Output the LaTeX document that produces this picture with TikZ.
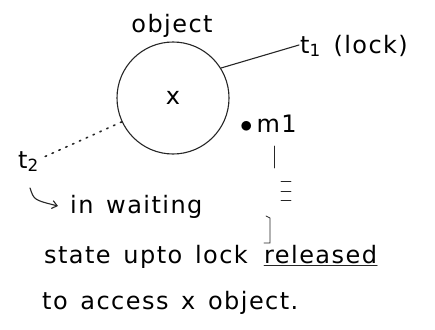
\documentclass[tikz,border=0pt]{standalone}
\usepackage{fontspec}
\setmainfont{DejaVu Sans}[LetterSpace=6, WordSpace=1.4]
\usetikzlibrary{arrows.meta}
\tikzset{
  hand/.style={font=\fontsize{24}{28}\selectfont, inner sep=0pt, anchor=base west},
  ink/.style={line width=1.1pt, line cap=round, draw=black!85},
  thin ink/.style={ink, line width=0.8pt},
}
\begin{document}
\begin{tikzpicture}[x=1pt,y=-1pt]
\useasboundingbox (0,0) rectangle (435,329);
% object
\node[circle, ink, minimum size=112pt, inner sep=0pt] (obj) at (173,98) {};
\node[hand, anchor=base] (objlbl) at (172,33) {object};
\node[hand, anchor=center] (x) at (173,98) {x};
% t1
\node[hand] (t1) at (300,53) {t\textsubscript{1} (lock)};
\coordinate (t1end) at (299,45);
\draw[ink] (obj.32) -- (t1end);
% t2
\node[hand] (t2) at (18,168) {t\textsubscript{2}};
\coordinate (t2end) at (44,157);
\draw[ink, line width=1.6pt, dash pattern=on 1.5pt off 6pt] (obj.205) -- (t2end);
% m1
\node[hand] (m1) at (240,132) {$\bullet$\,m1};
\coordinate (v1a) at (274,146);
\coordinate (v1b) at (274,168);
\draw[thin ink] (v1a) -- (v1b);
\coordinate (e1) at (281,181);
\coordinate (e2) at (281,191);
\coordinate (e3) at (281,200);
\draw[thin ink] (e1) -- ++(10,0) (e2) -- ++(10,0) (e3) -- ++(10,0);
\coordinate (b1) at (266,216);
\coordinate (b2) at (270,243);
\draw[thin ink] (b1) -- (270,218) -- (b2) -- (264,243);
% arrow
\coordinate (aa) at (30,188);
\coordinate (ab) at (58,206);
\draw[ink, -{Straight Barb[length=5pt,width=8pt]}] (aa) .. controls (34,200) .. (ab);
\node[hand] (w1) at (70,213) {in waiting};
\node[hand] (w2) at (44,263) {state upto lock};
\node[hand] (w2b) at (264,263) {released};
\draw[thin ink] ([yshift=-2pt]w2b.base west) -- ([yshift=-2pt]w2b.base east);
\node[hand] (w3) at (42,309) {to access x object.};
\end{tikzpicture}
\end{document}
